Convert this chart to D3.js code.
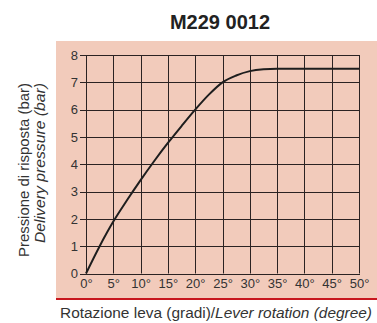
<!DOCTYPE html>
<html><head><meta charset="utf-8">
<script src="https://cdn.jsdelivr.net/npm/d3@7/dist/d3.min.js"></script>
<style>html,body{margin:0;padding:0;background:#fff;}svg{display:block;}</style>
</head><body>
<svg id="c" width="377" height="323"></svg>
<script>
const title = "M229 0012";
const xTicks = [0,5,10,15,20,25,30,35,40,45,50];
const yTicks = [0,1,2,3,4,5,6,7,8];
const angle = [0,2.5,5,7.5,10,12.5,15,17.5,20,22.5,25,27.5,30,32.5,35,40,45,50];
const pressure = [0,1.0,1.9,2.68,3.42,4.12,4.78,5.4,6.0,6.55,7.0,7.25,7.41,7.48,7.5,7.5,7.5,7.5];
const yLabel1 = "Pressione di risposta (bar)";
const yLabel2 = "Delivery pressure (bar)";
const xLabel1 = "Rotazione leva (gradi)/";
const xLabel2 = "Lever rotation (degree)";

const svg = d3.select("#c");
const font = "'Liberation Sans', Arial, sans-serif";
const x = d3.scaleLinear().domain([0,50]).range([86,359]);
const y = d3.scaleLinear().domain([0,8]).range([273.5,55]);

svg.append("rect").attr("x",56).attr("y",41).attr("width",321).attr("height",257).attr("fill","#f2cbbb");
svg.append("rect").attr("x",56).attr("y",298).attr("width",321).attr("height",2).attr("fill","#c8171e");

svg.append("text").attr("x",220).attr("y",29).attr("text-anchor","middle")
  .attr("font-family",font).attr("font-weight","bold").attr("font-size",20).attr("fill","#222").text(title);

const g = svg.append("g");
g.selectAll("line.v").data(xTicks).join("line").attr("class","v")
  .attr("x1",d=>Math.round(x(d))+0.5).attr("x2",d=>Math.round(x(d))+0.5)
  .attr("y1",y(8)).attr("y2",y(0)).attr("stroke","#2b2222").attr("stroke-width",1);
g.selectAll("line.h").data(yTicks).join("line").attr("class","h")
  .attr("x1",80).attr("x2",x(50)+1)
  .attr("y1",d=>Math.round(y(d))+0.5).attr("y2",d=>Math.round(y(d))+0.5)
  .attr("stroke","#2b2222").attr("stroke-width",1);

const ya = svg.append("g").attr("transform","translate(80,0)")
  .call(d3.axisLeft(y).tickValues(yTicks).tickSize(0).tickPadding(2).tickFormat(d3.format("d")));
ya.select(".domain").remove();
ya.selectAll("text").attr("font-family",font).attr("font-size",13).attr("fill","#333");

const xa = svg.append("g").attr("transform","translate(0,279)")
  .call(d3.axisBottom(x).tickValues(xTicks).tickSize(0).tickPadding(0).tickFormat(d=>d+"°"));
xa.select(".domain").remove();
xa.selectAll("text").attr("font-family",font).attr("font-size",13).attr("fill","#333");

const line = d3.line().x((d,i)=>x(angle[i])).y(d=>y(d)).curve(d3.curveMonotoneX);
svg.append("path").attr("d",line(pressure)).attr("fill","none").attr("stroke","#1e1e1e").attr("stroke-width",2);

svg.append("text").attr("transform","translate(29,83) rotate(-90)").attr("text-anchor","end")
  .attr("font-family",font).attr("font-size",14).attr("fill","#333")
  .attr("textLength",174).attr("lengthAdjust","spacingAndGlyphs").text(yLabel1);
svg.append("text").attr("transform","translate(45,83) rotate(-90)").attr("text-anchor","end")
  .attr("font-family",font).attr("font-size",14).attr("font-style","italic").attr("fill","#333")
  .attr("textLength",160).attr("lengthAdjust","spacingAndGlyphs").text(yLabel2);

const xt = svg.append("text").attr("x",60).attr("y",318)
  .attr("font-family",font).attr("font-size",14).attr("fill","#333")
  .attr("textLength",312).attr("lengthAdjust","spacingAndGlyphs");
xt.append("tspan").text(xLabel1);
xt.append("tspan").attr("font-style","italic").text(xLabel2);
</script>
</body></html>
